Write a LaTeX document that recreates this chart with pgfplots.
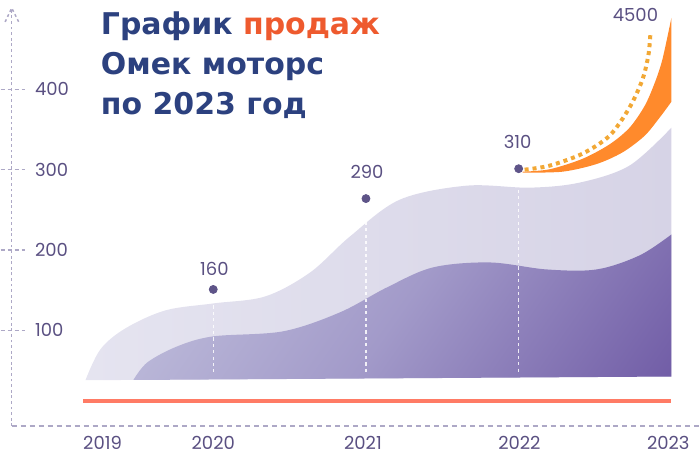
\documentclass[border=0pt]{standalone}
\usepackage{pgfplots}
\pgfplotsset{compat=1.18}
\usepgfplotslibrary{fillbetween}
\usepackage{fontspec}
\setmainfont{Poppins}
\newfontfamily\titlefont{DejaVu Sans}
\definecolor{titleblue}{HTML}{2C417F}
\definecolor{titleorange}{HTML}{EE5A2E}
\definecolor{labelc}{HTML}{5A5082}
\definecolor{axisc}{HTML}{ADA8C6}
\definecolor{backL}{HTML}{E5E4F0}
\definecolor{backR}{HTML}{D6D3E6}
\definecolor{frontL}{HTML}{C2C1DD}
\definecolor{frontM}{HTML}{A29AC9}
\definecolor{frontD}{HTML}{725EA7}
\definecolor{redline}{HTML}{FF7B65}
\definecolor{orangefill}{HTML}{FF8A2C}
\definecolor{orangedot}{HTML}{F2A835}
\definecolor{dotc}{HTML}{5E5488}
\pgfdeclareverticalshading{frontshade}{100bp}{color(0bp)=(frontD); color(16bp)=(frontD); color(50bp)=(frontM); color(84bp)=(frontL); color(100bp)=(frontL)}

\begin{document}
\begin{tikzpicture}
\begin{axis}[
  width=350pt, height=227pt, scale only axis,
  xmin=2018.608, xmax=2023.183, ymin=-52.8, ymax=511.2,
  axis line style={draw=none},
  xtick={2019.275,2020,2020.98,2022.005,2022.98},
  xticklabels={2019,2020,2021,2022,2023},
  xtick pos=bottom,
  xtick style={draw=none},
  xticklabel style={anchor=base, inner sep=0pt, yshift=1.8pt, font=\fontsize{9}{10}\selectfont, text=labelc},
  ytick={100,200,300,400},
  ytick pos=left,
  tick align=inside,
  major tick length=12pt,
  ytick style={draw=axisc, line width=0.7pt, dash pattern=on 2pt off 1.5pt},
  yticklabel style={anchor=west, inner sep=0pt, xshift=17pt, font=\fontsize{9}{10}\selectfont, text=labelc},
  /pgf/number format/assume math mode=true,
  clip=false,
]
\path (rel axis cs:0,0) rectangle (rel axis cs:1,1);
% axis lines
\draw[axisc, line width=0.75pt, dash pattern=on 1.4pt off 1.4pt] (axis cs:2018.680,-19.3) -- (axis cs:2018.680,501.2);
\draw[axisc, line width=0.75pt, dash pattern=on 1.4pt off 1.4pt] (axis cs:2018.637,483.9) -- (axis cs:2018.680,501.2) -- (axis cs:2018.726,483.9);
\draw[axisc, line width=0.7pt, dash pattern=on 2.5pt off 2pt] (axis cs:2018.680,-19.3) -- (axis cs:2023.183,-19.3);

% back area
\addplot[draw=none, left color=backL, right color=backR, smooth, tension=0.55] coordinates {
(2019.163,37.9) (2019.261,76.4) (2019.425,102.5) (2019.686,124.8) (2020,133.5)
(2020.340,142.2) (2020.634,172.0) (2020.895,216.8) (2021.222,262.7) (2021.660,280.1)
(2022.072,277.6) (2022.399,283.9) (2022.725,305.0) (2023,352.2)
} -- (axis cs:2023,42.5) -- (axis cs:2019.163,37.9) -- cycle;

% front area
\addplot[draw=none, shading=frontshade, shading angle=55, smooth, tension=0.55] coordinates {
(2019.477,38.2) (2019.569,60.2) (2019.765,80.1) (2020,92.5) (2020.458,98.8)
(2020.830,122.4) (2021.137,153.4) (2021.438,178.3) (2021.810,184.5) (2022.183,175.8)
(2022.510,175.8) (2022.791,193.2) (2023,219.3)
} -- (axis cs:2023,42.5) -- (axis cs:2019.477,38.2) -- cycle;

% white dashed guides
\addplot[white, opacity=0.85, line width=0.6pt, dash pattern=on 1.6pt off 1.6pt] coordinates {(2020,131) (2020,44)};
\addplot[white, opacity=0.85, line width=0.6pt, dash pattern=on 1.6pt off 1.6pt] coordinates {(2021,235) (2021,45)};
\addplot[white, opacity=0.85, line width=0.6pt, dash pattern=on 1.6pt off 1.6pt] coordinates {(2022,275) (2022,46)};

% red baseline
\addplot[redline, line width=2pt] coordinates {(2019.150,11.8) (2023,11.8)};

% orange forecast band
\addplot[name path=OU, draw=none, smooth, tension=0.5] coordinates {
(2022.026,297.5) (2022.203,300.5) (2022.418,313.5) (2022.595,331.5) (2022.725,352.0)
(2022.824,379.0) (2022.889,407.0) (2022.941,437.0) (2023,488.8)
};
\addplot[name path=OL, draw=none, smooth, tension=0.5] coordinates {
(2022.026,296.3) (2022.288,297.5) (2022.510,307.0) (2022.680,321.5) (2022.824,342.0)
(2022.922,364.5) (2023,384.5)
};
\addplot[orangefill, draw=none] fill between[of=OU and OL];

% dotted forecast
\addplot[orangedot, line width=2pt, dash pattern=on 2pt off 2pt, smooth, tension=0.5] coordinates {
(2022.039,300.0) (2022.203,305.0) (2022.418,319.9) (2022.595,342.2) (2022.725,377.0)
(2022.810,411.8) (2022.850,442.9) (2022.863,470.2)
};

% points
\addplot[only marks, mark=*, mark size=2pt, dotc] coordinates {(2020,150.9) (2021,264.0) (2022,301.2)};

% value labels
\node[labelc, font=\fontsize{9}{10}\selectfont] at (axis cs:2020.007,177.0) {160};
\node[labelc, font=\fontsize{9}{10}\selectfont] at (axis cs:2021.007,297.5) {290};
\node[labelc, font=\fontsize{9}{10}\selectfont] at (axis cs:2021.993,334.8) {310};
\node[labelc, font=\fontsize{9}{10}\selectfont] at (axis cs:2022.765,492.5) {4500};

% title
\node[anchor=base west, inner sep=0pt, font=\titlefont\bfseries\fontsize{15}{17}\selectfont, text=titleblue] at (axis cs:2019.262,468.0) {График \textcolor{titleorange}{продаж}};
\node[anchor=base west, inner sep=0pt, font=\titlefont\bfseries\fontsize{15}{17}\selectfont, text=titleblue] at (axis cs:2019.262,418.0) {Омек моторс};
\node[anchor=base west, inner sep=0pt, font=\titlefont\bfseries\fontsize{15}{17}\selectfont, text=titleblue] at (axis cs:2019.262,368.3) {по 2023 год};
\end{axis}
\end{tikzpicture}
\end{document}
